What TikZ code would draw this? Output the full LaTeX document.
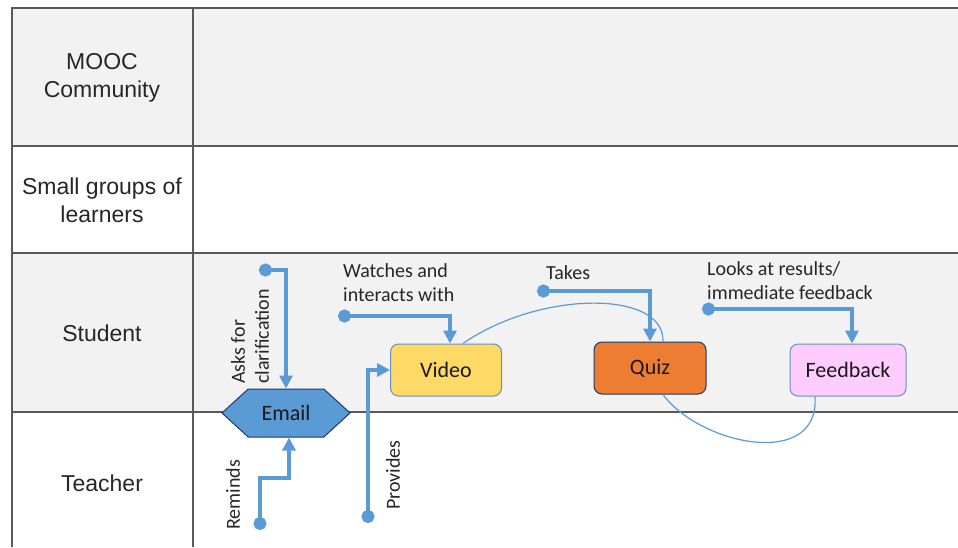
\documentclass[tikz,border=0pt]{standalone}
\usepackage{fontspec}
\setmainfont{Carlito}
\newfontfamily\lanefont{Liberation Sans}
\usetikzlibrary{arrows.meta,shapes.symbols}

\definecolor{lanegrey}{HTML}{F2F2F2}
\definecolor{laneline}{HTML}{595959}
\definecolor{flowblue}{HTML}{5B9BD5}
\definecolor{navy}{HTML}{203864}
\definecolor{softblue}{HTML}{6C8EBF}
\definecolor{videofill}{HTML}{FFD966}
\definecolor{quizfill}{HTML}{ED7D31}
\definecolor{feedfill}{HTML}{FFCCFF}

\begin{document}
\begin{tikzpicture}[x=1pt,y=-1pt,
	lane/.style={font=\lanefont\fontsize{23}{28}\selectfont,align=center,text=black!85},
	note/.style={font=\fontsize{20}{24}\selectfont,align=left,text=black!85,inner sep=0pt},
	task/.style={draw=softblue,line width=1pt,rounded corners=8pt,minimum height=52pt,
		font=\fontsize{22}{26}\selectfont,text=black!90},
	flow/.style={draw=flowblue,line width=4pt,{Circle[length=13pt]}-{Triangle[length=13pt,width=13pt]}},
	link/.style={draw=flowblue,line width=1.2pt}]
	\pgfmathsetmacro{\left}{12}		%left edge of table
	\pgfmathsetmacro{\right}{958}		%table runs off the page
	\pgfmathsetmacro{\col}{193}		%end of the label column
	\pgfmathsetmacro{\rowa}{8}
	\pgfmathsetmacro{\rowb}{146}
	\pgfmathsetmacro{\rowc}{253}
	\pgfmathsetmacro{\rowd}{412}
	\pgfmathsetmacro{\rowe}{547}
	\useasboundingbox (0,0) rectangle (958,547);

	%lanes
	\fill[lanegrey] (\left,\rowa) rectangle (\right,\rowb);
	\fill[lanegrey] (\left,\rowc) rectangle (\right,\rowd);
	\draw[laneline,line width=1.5pt] (\right,\rowa) -- (\left,\rowa) -- (\left,\rowe);
	\draw[laneline,line width=1.5pt] (\col,\rowa) -- (\col,\rowe);
	\foreach \y in {\rowb,\rowc,\rowd}
		\draw[laneline,line width=1.5pt] (\left,\y) -- (\right,\y);

	\node[lane] (mooc) at (102,78) {MOOC\\Community};
	\node[lane] (groups) at (102,200) {Small groups of\\learners};
	\node[lane] (student) at (102,333) {Student};
	\node[lane] (teacher) at (102,483) {Teacher};

	%tasks
	\node[signal,signal to=west and east,signal pointer angle=85,draw=navy,line width=1pt,
		fill=flowblue,minimum width=128pt,minimum height=48pt,inner xsep=2pt,
		font=\fontsize{22}{26}\selectfont,text=black!90] (email) at (286,413) {Email};
	\node[task,fill=videofill,minimum width=111pt] (video) at (446,370) {Video};
	\node[task,fill=quizfill,draw=navy,minimum width=112pt] (quiz) at (650,368) {Quiz};
	\node[task,fill=feedfill,minimum width=116pt] (feedback) at (848,370) {Feedback};

	%start points
	\coordinate (ask) at (259,270);
	\coordinate (watch) at (338,316);
	\coordinate (take) at (537,291);
	\coordinate (look) at (702,309);
	\coordinate (remind) at (260,530);
	\coordinate (provide) at (368,523);

	\draw[flow] (ask) -| (email.north);
	\draw[flow] (watch) -| ([xshift=4pt]video.north);
	\draw[flow] (take) -| (quiz.north);
	\draw[flow] (look) -| ([xshift=4pt]feedback.north);
	\draw[flow] (remind) -- ++(0,-52) -| ([xshift=3pt]email.south);
	\draw[flow] (provide) |- (video.west);

	\draw[link] ([xshift=17pt]video.north) .. controls (540,290) and (665,290) .. ([xshift=13pt]quiz.north);
	\draw[link] ([xshift=13pt]quiz.south) .. controls (700,445) and (820,470) .. ([xshift=-33pt]feedback.south);

	%labels
	\node[note,rotate=90,anchor=west] (asklabel) at (250,384) {Asks for\\clarification};
	\node[note,anchor=south west] (watchlabel) at (343,302) {Watches and\\interacts with};
	\node[note,anchor=south west] (takelabel) at (546,280) {Takes};
	\node[note,anchor=south west] (looklabel) at (707,300) {Looks at results/\\immediate feedback};
	\node[note,rotate=90,anchor=west] (remindlabel) at (233,530) {Reminds};
	\node[note,rotate=90,anchor=west] (providelabel) at (393,510) {Provides};
\end{tikzpicture}
\end{document}
